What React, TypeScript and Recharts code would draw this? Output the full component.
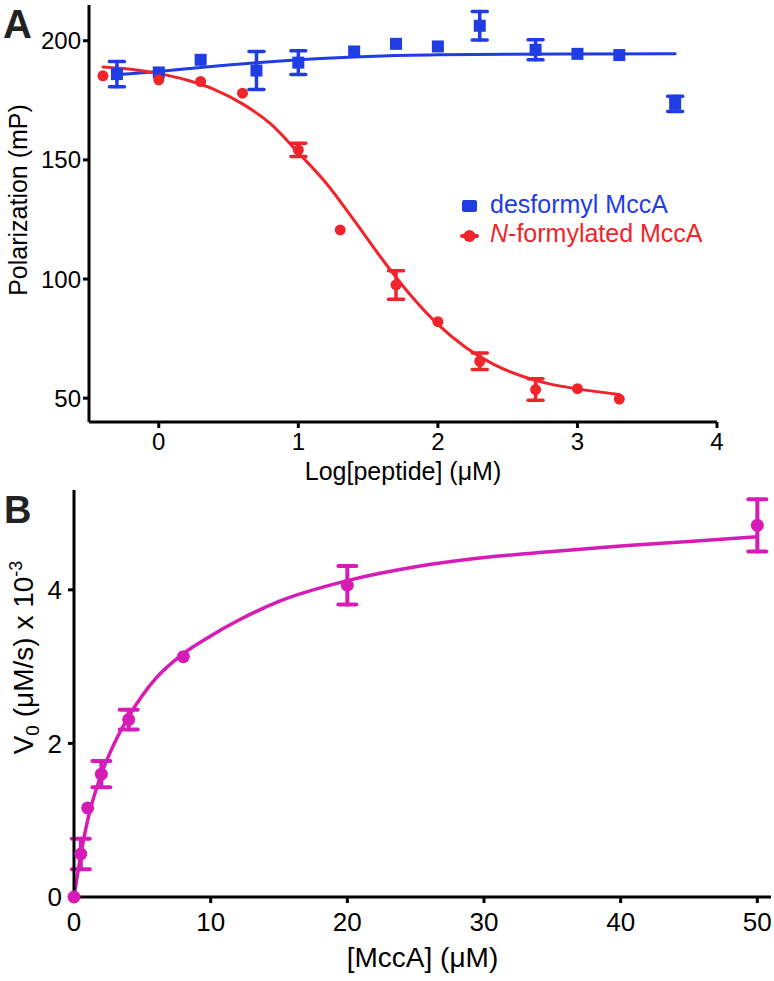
import React from 'react';
import { ComposedChart, Scatter, Line, XAxis, YAxis, ErrorBar, Legend } from 'recharts';

const FONT = '"Liberation Sans", Arial, Helvetica, sans-serif';
const BLUE = '#1f3de2';
const RED = '#f0252b';
const MAGENTA = '#d61cb6';

//==========================================================
// Panel A - polarization vs log[peptide]
//==========================================================
const desformylLog = [-0.3, 0, 0.3, 0.7, 1, 1.4, 1.7, 2, 2.3, 2.7, 3, 3.3, 3.7];
const desformylMP = [186, 186.7, 192, 187.5, 190.8, 195.5, 198.7, 197.6, 206.3, 196.2, 194.5, 194, 173.5];
const desformylErr = [5.3, 0, 0, 8, 5, 0, 0, 0, 6, 4.2, 0, 0, 3.2];

const formylLog = [-0.4, 0, 0.3, 0.6, 1, 1.3, 1.7, 2, 2.3, 2.7, 3, 3.3];
const formylMP = [185.3, 183.6, 182.9, 178, 154.2, 120.6, 97.5, 82.1, 65.5, 53.6, 54, 49.6];
const formylErr = [0, 0, 0, 0, 2.8, 0, 6, 0, 3.5, 4.5, 0, 0];

// fitted curves
const desformylFitLog = [-0.3, 0, 0.3, 0.7, 1, 1.4, 1.7, 2, 2.5, 3, 3.7];
const desformylFitMP = [185.7, 187.1, 188.8, 190.8, 192, 193.2, 193.8, 194.1, 194.3, 194.4, 194.5];
const formylFitLog = [-0.4, -0.2, 0, 0.2, 0.4, 0.6, 0.8, 1, 1.2, 1.4, 1.6, 1.8, 2, 2.2, 2.4, 2.6, 2.8, 3, 3.3];
const formylFitMP = [189, 188, 186.2, 183.5, 179.5, 173.5, 165.2, 153, 140.2, 124.6, 108.4, 93.5, 81, 71.3, 64.2, 59.3, 56, 53.9, 51.5];

const logTicks = [0, 1, 2, 3, 4];
const mpTicks = [50, 100, 150, 200];

//==========================================================
// Panel B - V0 vs [MccA]
//==========================================================
const mccaConc = [0, 0.5, 1, 2, 4, 8, 20, 50];
const v0 = [0, 0.56, 1.16, 1.6, 2.31, 3.13, 4.06, 4.84];
const v0Err = [0, 0.2, 0, 0.17, 0.13, 0, 0.25, 0.34];

const fitConc = [0, 0.5, 1, 2, 3, 4, 6, 8, 10, 12, 15, 20, 25, 30, 35, 40, 45, 50];
const fitV0 = [0, 0.55, 1.0, 1.6, 2.02, 2.35, 2.85, 3.17, 3.4, 3.6, 3.85, 4.12, 4.3, 4.42, 4.5, 4.57, 4.63, 4.69];

const concTicks = [0, 10, 20, 30, 40, 50];
const v0Ticks = [0, 2, 4];

const zip = (xs: number[], ys: number[], errs?: number[]) =>
	xs.map((x, i) => ({ x, y: ys[i], err: errs ? errs[i] : 0 }));

const desformylData = zip(desformylLog, desformylMP, desformylErr);
const formylData = zip(formylLog, formylMP, formylErr);
const desformylFit = zip(desformylFitLog, desformylFitMP);
const formylFit = zip(formylFitLog, formylFitMP);
const kineticsData = zip(mccaConc, v0, v0Err);
const kineticsFit = zip(fitConc, fitV0);

const squareShape = (props: any) => (
	<rect x={props.cx - 6} y={props.cy - 6} width={12} height={12} fill={BLUE} />
);
const dotShape = (fill: string, r: number) => (props: any) => (
	<circle cx={props.cx} cy={props.cy} r={r} fill={fill} />
);

const axisStyle = { stroke: '#000', strokeWidth: 3 };

const YTitle = ({ viewBox, dx, dy, size, children }: any) => {
	const x = viewBox.x + dx;
	const y = viewBox.y + viewBox.height / 2 + dy;
	return (
		<text x={x} y={y} transform={`rotate(-90, ${x}, ${y})`} textAnchor="middle" fontSize={size} fontFamily={FONT} fill="#000">
			{children}
		</text>
	);
};

const XTitle = ({ viewBox, dy, size, children }: any) => (
	<text x={viewBox.x + viewBox.width / 2} y={viewBox.y + dy} textAnchor="middle" fontSize={size} fontFamily={FONT} fill="#000">
		{children}
	</text>
);

const LegendA = () => (
	<svg width={270} height={64} style={{ fontFamily: FONT }}>
		<rect x={2} y={10} width={15} height={12} rx={2} fill={BLUE} />
		<text x={30} y={23} fontSize={25} fill={BLUE}>desformyl MccA</text>
		<line x1={2} y1={46} x2={17} y2={46} stroke={RED} strokeWidth={4} strokeLinecap="round" />
		<circle cx={9.5} cy={46} r={6} fill={RED} />
		<text x={30} y={52} fontSize={25} fill={RED}>
			<tspan fontStyle="italic">N</tspan>-formylated MccA
		</text>
	</svg>
);

const PanelA = () => (
	<ComposedChart width={774} height={490} margin={{ top: 5, right: 57, bottom: 0, left: 0 }}>
		<XAxis
			type="number"
			dataKey="x"
			domain={[-0.5, 4]}
			ticks={logTicks}
			height={68}
			axisLine={axisStyle}
			tickLine={axisStyle}
			tickSize={6}
			tickMargin={5}
			tick={{ fontSize: 24, fill: '#000', fontFamily: FONT }}
			label={(p: any) => (
				<XTitle viewBox={p.viewBox} dy={58} size={25}>
					Log[peptide] (μM)
				</XTitle>
			)}
		/>
		<YAxis
			type="number"
			domain={[40, 215]}
			ticks={mpTicks}
			width={89}
			axisLine={axisStyle}
			tickLine={axisStyle}
			tickSize={6}
			tickMargin={2}
			tick={{ fontSize: 24, fill: '#000', fontFamily: FONT }}
			label={(p: any) => (
				<YTitle viewBox={p.viewBox} dx={27} dy={-13.5} size={25}>
					Polarization (mP)
				</YTitle>
			)}
		/>
		<Line data={desformylFit} dataKey="y" type="monotone" stroke={BLUE} strokeWidth={3} strokeLinecap="round" dot={false} isAnimationActive={false} />
		<Line data={formylFit} dataKey="y" type="monotone" stroke={RED} strokeWidth={3} strokeLinecap="round" dot={false} isAnimationActive={false} />
		<Scatter data={desformylData} dataKey="y" shape={squareShape} isAnimationActive={false}>
			<ErrorBar dataKey="err" direction="y" width={7.5} stroke={BLUE} strokeWidth={3.5} strokeLinecap="round" isAnimationActive={false} />
		</Scatter>
		<Scatter data={formylData} dataKey="y" shape={dotShape(RED, 5.5)} isAnimationActive={false}>
			<ErrorBar dataKey="err" direction="y" width={7.5} stroke={RED} strokeWidth={3.5} strokeLinecap="round" isAnimationActive={false} />
		</Scatter>
		<Legend
			content={LegendA}
			layout="horizontal"
			verticalAlign="middle"
			align="center"
			wrapperStyle={{ left: 460, top: 190, width: 270, height: 64 }}
		/>
	</ComposedChart>
);

const PanelB = () => (
	<ComposedChart width={774} height={501} margin={{ top: 10, right: 3, bottom: 0, left: 0 }}>
		<XAxis
			type="number"
			dataKey="x"
			domain={[0, 51]}
			ticks={concTicks}
			height={84}
			axisLine={axisStyle}
			tickLine={axisStyle}
			tickSize={6}
			tickMargin={10}
			tick={{ fontSize: 26, fill: '#000', fontFamily: FONT }}
			label={(p: any) => (
				<XTitle viewBox={p.viewBox} dy={70} size={28}>
					[MccA] (μM)
				</XTitle>
			)}
		/>
		<YAxis
			type="number"
			domain={[0, 5.3]}
			ticks={v0Ticks}
			width={74}
			axisLine={axisStyle}
			tickLine={axisStyle}
			tickSize={6}
			tickMargin={6}
			tick={{ fontSize: 26, fill: '#000', fontFamily: FONT }}
			label={(p: any) => (
				<YTitle viewBox={p.viewBox} dx={33} dy={-36} size={28}>
					V<tspan fontSize={19} dy={6}>0</tspan>
					<tspan dy={-6}> (μM/s) x 10</tspan>
					<tspan fontSize={18} dy={-11}>-3</tspan>
				</YTitle>
			)}
		/>
		<Line data={kineticsFit} dataKey="y" type="monotone" stroke={MAGENTA} strokeWidth={3.5} strokeLinecap="round" dot={false} isAnimationActive={false} />
		<Scatter data={kineticsData} dataKey="y" shape={dotShape(MAGENTA, 6.5)} isAnimationActive={false}>
			<ErrorBar dataKey="err" direction="y" width={9} stroke={MAGENTA} strokeWidth={4} strokeLinecap="round" isAnimationActive={false} />
		</Scatter>
	</ComposedChart>
);

export default function App() {
	return (
		<div style={{ position: 'absolute', left: 0, top: 0, width: 774, height: 981, background: '#fff' }}>
			<div style={{ position: 'absolute', left: 0, top: 0 }}>
				<PanelA />
			</div>
			<div style={{ position: 'absolute', left: 0, top: 480 }}>
				<PanelB />
			</div>
			<svg width={774} height={981} style={{ position: 'absolute', left: 0, top: 0, pointerEvents: 'none' }}>
				<text x={3} y={38} fontSize={40} fontWeight="bold" fontFamily={FONT} fill="#222">A</text>
				<text x={4} y={523} fontSize={38} fontWeight="bold" fontFamily={FONT} fill="#222">B</text>
			</svg>
		</div>
	);
}
